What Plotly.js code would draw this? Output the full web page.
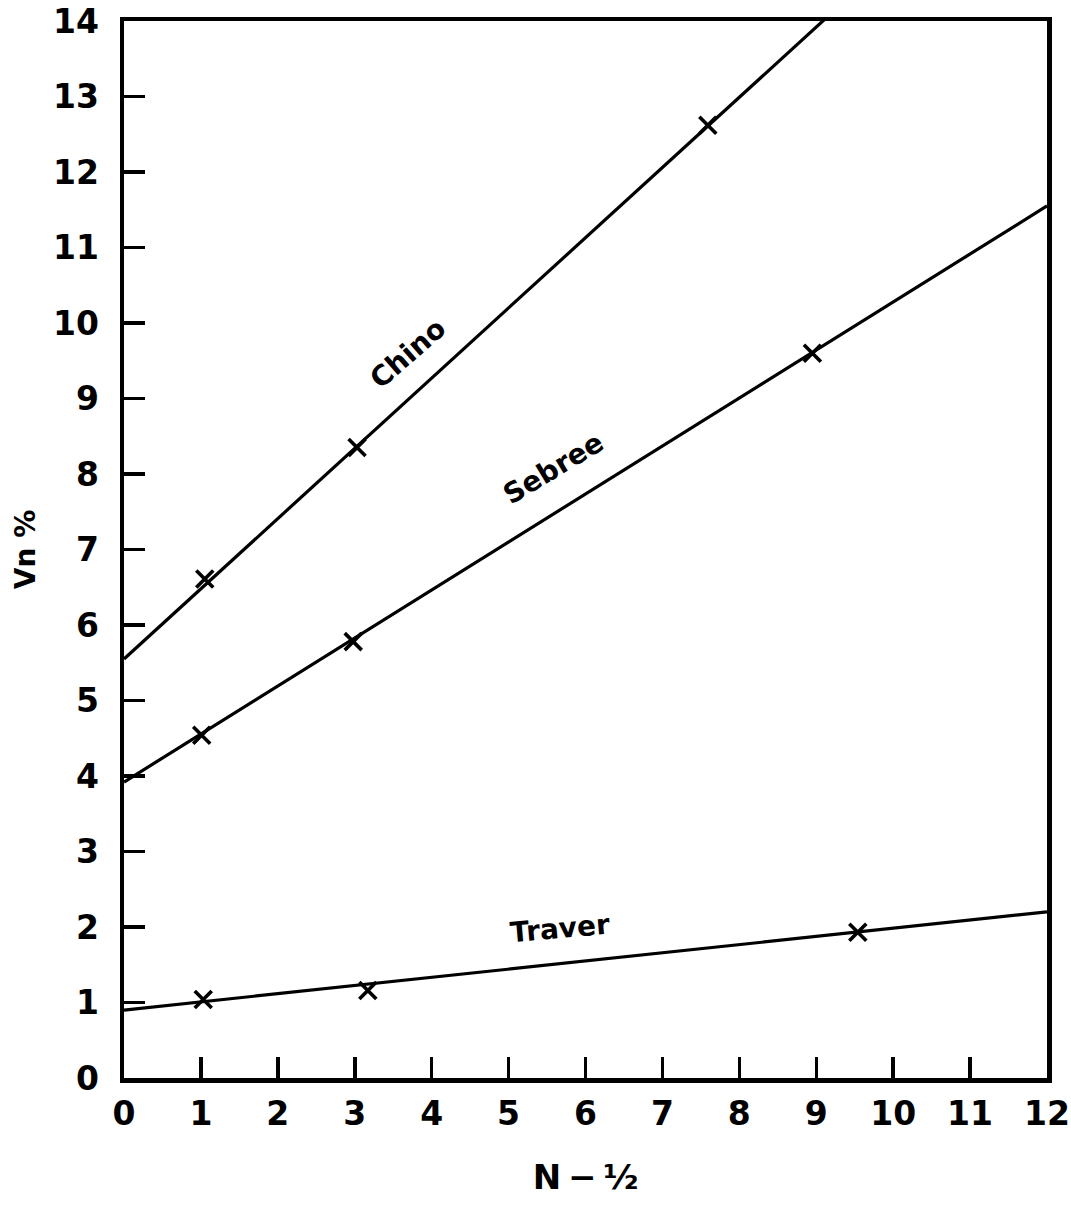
<!DOCTYPE html>
<html>
<head>
<meta charset="utf-8">
<script src="https://cdn.plot.ly/plotly-3.0.1.min.js"></script>
<style>
  html, body { margin: 0; padding: 0; background: #ffffff; }
  #plot { width: 1071px; height: 1205px; }
</style>
</head>
<body>
<div id="plot"></div>
<script>
// Measured points (N - 1/2 versus Vn %) for each soil
const chinoX = [1.05, 3.03, 7.59];
const chinoY = [6.61, 8.35, 12.62];
const sebreeX = [1.01, 2.98, 8.95];
const sebreeY = [4.54, 5.78, 9.60];
const traverX = [1.03, 3.17, 9.54];
const traverY = [1.04, 1.16, 1.93];

// Fitted straight lines, given by their ends at N - 1/2 = 0 and 12
const fitX = [0, 12];
const chinoFit = [5.55, 16.71];
const sebreeFit = [3.92, 11.55];
const traverFit = [0.90, 2.20];

// Curve names written along the lines
const labelText = ['Chino', 'Sebree', 'Traver'];
const labelX = [3.69, 5.58, 5.67];
const labelY = [9.60, 8.07, 1.98];
const labelAngle = [-41, -31, -5];

const xTicks = [0, 1, 2, 3, 4, 5, 6, 7, 8, 9, 10, 11, 12];
const yTicks = [0, 1, 2, 3, 4, 5, 6, 7, 8, 9, 10, 11, 12, 13, 14];

const FONT = 'DejaVu Sans, Liberation Sans, sans-serif';

function fitLine(y) {
  return { x: fitX, y: y, mode: 'lines', type: 'scatter',
           line: { color: '#000', width: 3.2 }, hoverinfo: 'skip', showlegend: false };
}
function points(x, y) {
  return { x: x, y: y, mode: 'markers', type: 'scatter', showlegend: false,
           marker: { symbol: 'x-thin', size: 17, color: '#000',
                     line: { color: '#000', width: 3.6 } } };
}

const traces = [
  fitLine(chinoFit), fitLine(sebreeFit), fitLine(traverFit),
  points(chinoX, chinoY), points(sebreeX, sebreeY), points(traverX, traverY)
];

const annotations = labelText.map((t, i) => ({
  text: t, x: labelX[i], y: labelY[i], xref: 'x', yref: 'y',
  showarrow: false, textangle: labelAngle[i],
  font: { family: FONT, size: 28, color: '#000', weight: 700 }
}));

const axisCommon = {
  showline: true, mirror: true, linecolor: '#000', linewidth: 4.5,
  showgrid: false, zeroline: false,
  ticks: 'inside', ticklen: 21, tickwidth: 3.5, tickcolor: '#000',
  tickfont: { family: FONT, size: 33, color: '#000', weight: 700 },
  ticklabeloverflow: 'allow',
  tickmode: 'array', fixedrange: true
};

const layout = {
  width: 1071, height: 1205,
  margin: { l: 124, r: 24, t: 21, b: 127 },
  paper_bgcolor: '#fff', plot_bgcolor: '#fff',
  showlegend: false,
  xaxis: Object.assign({}, axisCommon, {
    range: [0, 12], tickvals: xTicks, ticktext: xTicks.map(String),
    ticklabelstandoff: 3,
    title: { text: 'N\u2009\u2212\u2009\u00BD', font: { family: FONT, size: 34, color: '#000', weight: 700 }, standoff: 34 }
  }),
  yaxis: Object.assign({}, axisCommon, {
    range: [0, 14], tickvals: yTicks, ticktext: yTicks.map(String),
    ticklabelstandoff: 14,
    title: { text: 'Vn %', font: { family: FONT, size: 28, color: '#000', weight: 700 }, standoff: 10 }
  }),
  annotations: annotations
};

Plotly.newPlot('plot', traces, layout, { displayModeBar: false, staticPlot: true });
</script>
</body>
</html>
